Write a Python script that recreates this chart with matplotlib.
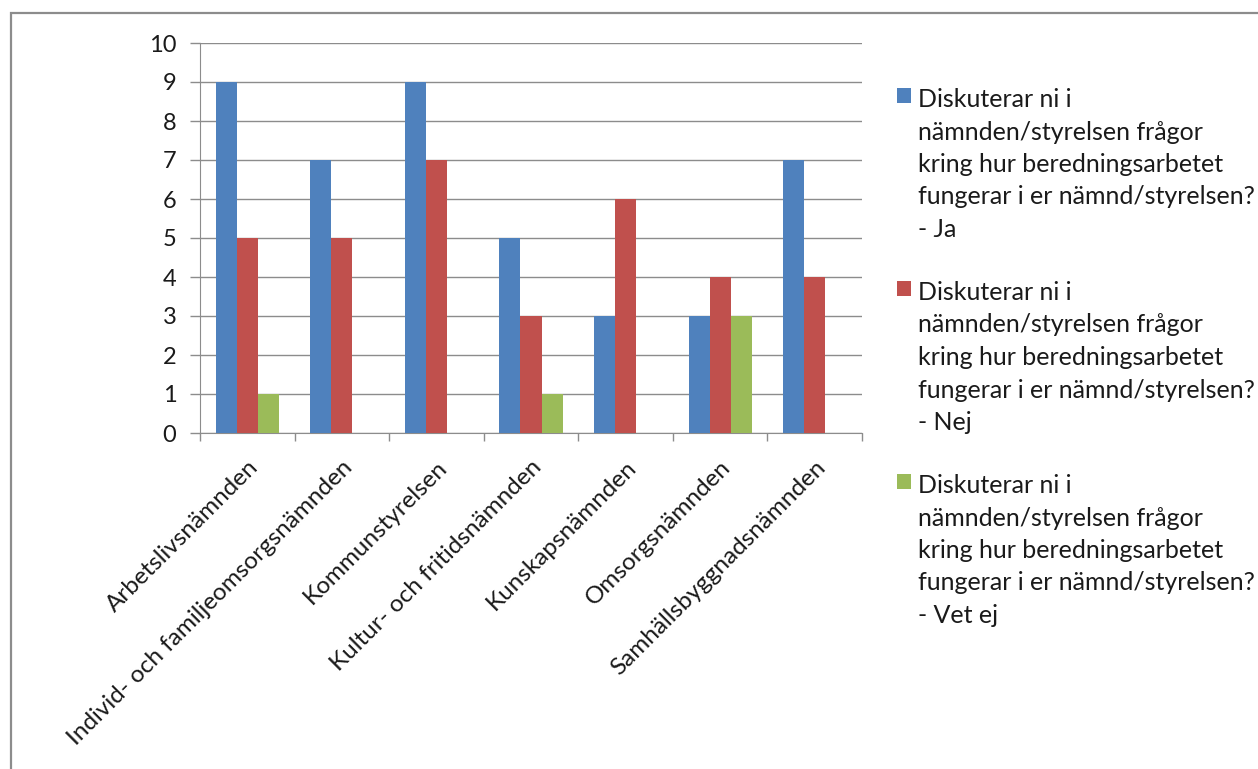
import numpy as np
import matplotlib
matplotlib.use("Agg")
import matplotlib.pyplot as plt
from matplotlib.patches import Rectangle

plt.rcParams["font.family"] = ["Lato", "DejaVu Sans"]

categories = [
    "Arbetslivsnämnden",
    "Individ- och familjeomsorgsnämnden",
    "Kommunstyrelsen",
    "Kultur- och fritidsnämnden",
    "Kunskapsnämnden",
    "Omsorgsnämnden",
    "Samhällsbyggnadsnämnden",
]
ja = [9, 7, 9, 5, 3, 3, 7]
nej = [5, 5, 7, 3, 6, 4, 4]
vet_ej = [1, 0, 0, 1, 0, 3, 0]

question = ("Diskuterar ni i\nnämnden/styrelsen frågor\nkring hur beredningsarbetet\n"
            "fungerar i er nämnd/styrelsen?\n- ")
series = [
    (ja, question + "Ja", "#4F81BD"),
    (nej, question + "Nej", "#C0504D"),
    (vet_ej, question + "Vet ej", "#9BBB59"),
]

W, H = 1258, 769
fig = plt.figure(figsize=(W / 100, H / 100), dpi=100)
# outer chart frame (right and bottom edges fall outside the picture)
fig.patches.append(Rectangle((11 / W, -0.1), 1.2, 1 - 13 / H + 0.1,
                             transform=fig.transFigure, fill=False,
                             edgecolor="#8c8c8c", linewidth=1.6))

ax = fig.add_axes([200 / W, 1 - 433 / H, 662 / W, 390 / H])
x = np.arange(len(categories))
w = 1 / 4.5  # Excel gap width 150%
handles = []
for i, (vals, label, color) in enumerate(series):
    b = ax.bar(x + (i - 1) * w, vals, width=w, color=color, label=label, zorder=3)
    handles.append(b)

ax.set_xlim(-0.5, len(categories) - 0.5)
ax.set_ylim(0, 10)
ax.set_yticks(range(0, 11))
ax.yaxis.grid(True, color="#8c8c8c", linewidth=1.0, zorder=0)
ax.set_xticks(np.arange(-0.5, len(categories), 1.0))
ax.set_xticklabels([])
ax.set_xticks(x, minor=True)
ax.set_xticklabels(categories, minor=True, rotation=45, ha="right", va="top",
                   rotation_mode="anchor", fontsize=17.5, color="#1a1a1a")
ax.tick_params(axis="x", which="major", length=6, color="#8c8c8c", width=1)
ax.tick_params(axis="x", which="minor", length=0, pad=17)
ax.tick_params(axis="y", length=7, color="#8c8c8c", width=1, labelsize=17,
               pad=10, labelcolor="#1a1a1a")
for s in ["top", "right"]:
    ax.spines[s].set_visible(False)
ax.spines["left"].set_color("#8c8c8c")
ax.spines["bottom"].set_color("#8c8c8c")

leg = fig.legend(handles=handles, loc="upper left",
                 bbox_to_anchor=(897 / W, 1 - 88 / H), frameon=False,
                 fontsize=18, handlelength=0.56, handleheight=0.56,
                 handletextpad=0.3, labelspacing=1.6, borderpad=0,
                 borderaxespad=0)
for t in leg.get_texts():
    t.set_linespacing(1.5)
    t.set_color("#1a1a1a")
# put each square next to the first line of its label
for col in leg._legend_handle_box.get_children():
    for row in col.get_children():
        row.align = "top"

fig.savefig("out.png", dpi=100)
